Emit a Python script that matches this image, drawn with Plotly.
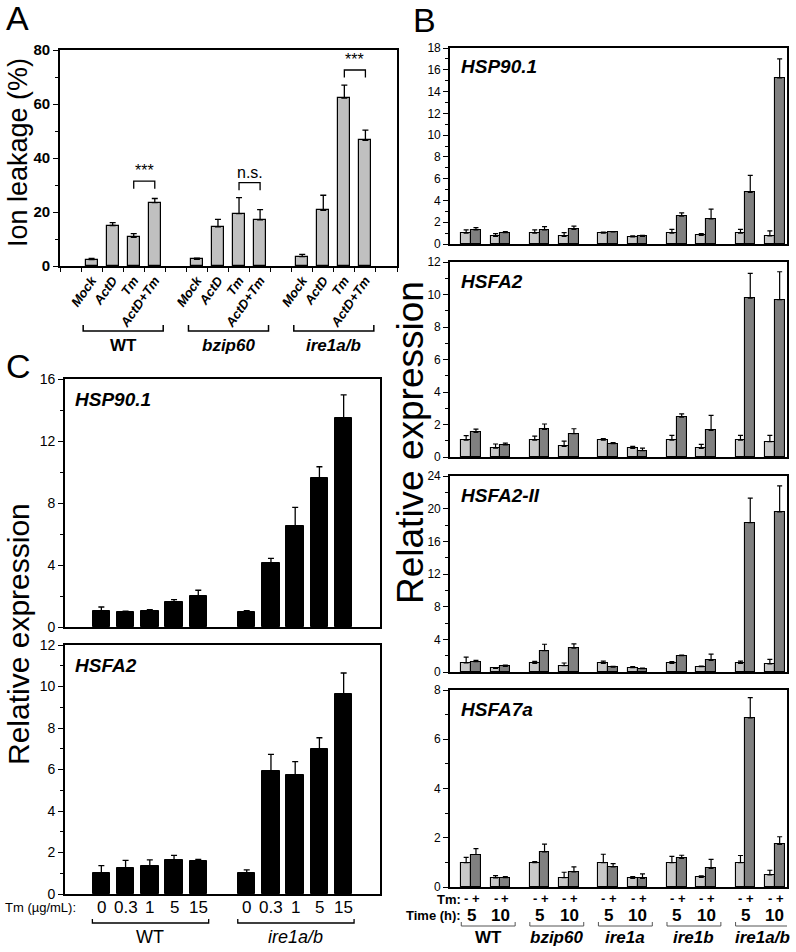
import plotly.graph_objects as go

W, H = 796, 952
FONT = "Liberation Sans, Arial, sans-serif"

# ---------------- Panel A data ----------------
a_groups = ["WT", "<i>bzip60</i>", "<i>ire1a/b</i>"]
a_treat = ["Mock", "ActD", "Tm", "ActD+Tm"]
a_wt = [2.4, 15.0, 10.6, 23.5]
a_wt_err = [0.4, 1.1, 1.4, 1.5]
a_bzip60 = [2.5, 14.5, 19.4, 17.1]
a_bzip60_err = [0.4, 2.8, 5.9, 3.8]
a_ire1ab = [3.5, 20.6, 62.2, 46.5]
a_ire1ab_err = [0.8, 5.6, 4.8, 3.8]
a_sig = ["***", "n.s.", "***"]

# ---------------- Panel B data ----------------
b_genotypes = ["WT", "<i>bzip60</i>", "<i>ire1a</i>", "<i>ire1b</i>", "<i>ire1a/b</i>"]
b_times = ["5", "10"]
b_genes = ["HSP90.1", "HSFA2", "HSFA2-II", "HSFA7a"]
# order: WT5, WT10, bzip60 5, bzip60 10, ire1a 5, ire1a 10, ire1b 5, ire1b 10, ire1a/b 5, ire1a/b 10
hsp901_minus = [1.0, 0.7, 1.0, 0.7, 1.0, 0.65, 1.0, 0.8, 1.0, 0.75]
hsp901_minus_err = [0.3, 0.25, 0.3, 0.35, 0.1, 0.1, 0.35, 0.15, 0.35, 0.45]
hsp901_plus = [1.3, 1.05, 1.3, 1.35, 1.1, 0.7, 2.55, 2.3, 4.75, 15.25]
hsp901_plus_err = [0.2, 0.1, 0.3, 0.3, 0.05, 0.1, 0.3, 0.9, 1.55, 1.75]

hsfa2_minus = [1.03, 0.55, 1.03, 0.66, 1.03, 0.53, 1.03, 0.53, 1.03, 0.94]
hsfa2_minus_err = [0.28, 0.25, 0.26, 0.32, 0.1, 0.13, 0.3, 0.25, 0.3, 0.39]
hsfa2_plus = [1.52, 0.74, 1.7, 1.44, 0.82, 0.39, 2.46, 1.64, 9.78, 9.68]
hsfa2_plus_err = [0.2, 0.12, 0.33, 0.3, 0.06, 0.16, 0.19, 0.92, 1.52, 1.72]

hsfa2ii_minus = [1.1, 0.45, 1.05, 0.77, 1.05, 0.53, 1.05, 0.65, 1.05, 1.0]
hsfa2ii_minus_err = [0.73, 0.08, 0.25, 0.33, 0.29, 0.12, 0.21, 0.08, 0.29, 0.54]
hsfa2ii_plus = [1.26, 0.69, 2.6, 2.92, 0.6, 0.4, 1.99, 1.42, 18.3, 19.6]
hsfa2ii_plus_err = [0.16, 0.16, 0.8, 0.53, 0.09, 0.09, 0.08, 0.77, 3.0, 3.2]

hsfa7a_minus = [0.99, 0.37, 0.99, 0.38, 0.99, 0.35, 0.99, 0.39, 0.99, 0.49]
hsfa7a_minus_err = [0.21, 0.09, 0.04, 0.22, 0.34, 0.07, 0.25, 0.06, 0.29, 0.19]
hsfa7a_plus = [1.32, 0.38, 1.43, 0.61, 0.82, 0.35, 1.16, 0.76, 6.87, 1.73]
hsfa7a_plus_err = [0.24, 0.04, 0.31, 0.21, 0.13, 0.18, 0.13, 0.36, 0.82, 0.31]

b_ranges = [18, 12, 24, 8]
b_dticks = [2, 2, 4, 2]

# ---------------- Panel C data ----------------
c_groups = ["WT", "<i>ire1a/b</i>"]
c_doses = ["0", "0.3", "1", "5", "15"]
c_genes = ["HSP90.1", "HSFA2"]
c_hsp901_wt = [1.01, 1.0, 1.03, 1.6, 2.02]
c_hsp901_wt_err = [0.28, 0.03, 0.09, 0.16, 0.35]
c_hsp901_ire = [1.0, 4.15, 6.52, 9.63, 13.46]
c_hsp901_ire_err = [0.05, 0.28, 1.2, 0.71, 1.51]
c_hsfa2_wt = [1.03, 1.25, 1.33, 1.64, 1.59]
c_hsfa2_wt_err = [0.34, 0.37, 0.31, 0.22, 0.08]
c_hsfa2_ire = [1.03, 5.94, 5.75, 7.0, 9.64]
c_hsfa2_ire_err = [0.13, 0.79, 0.63, 0.53, 1.01]


def fx(px):
    return px / W


def fy(py):
    return 1 - py / H


def errbar(arr, thick=1.3, width=3):
    return dict(type="data", symmetric=False, array=arr, arrayminus=[0] * len(arr),
                color="black", thickness=thick, width=width)


def txt(x, y, text, size, xref="paper", yref="paper", xanchor="center", yanchor="middle", angle=0):
    return dict(x=x, y=y, xref=xref, yref=yref, text=text, showarrow=False, xanchor=xanchor,
                yanchor=yanchor, textangle=angle, font=dict(size=size, family=FONT, color="black"))


fig = go.Figure()
shapes = []
ann = []

# ---------------- Panel A ----------------
a_vals = [a_wt, a_bzip60, a_ire1ab]
a_errs = [a_wt_err, a_bzip60_err, a_ire1ab_err]
a_x, a_y, a_e, a_lab = [], [], [], []
for gi in range(3):
    for ti in range(4):
        a_x.append(gi * 5 + ti)
        a_y.append(a_vals[gi][ti])
        a_e.append(a_errs[gi][ti])
        a_lab.append("<b><i>%s</i></b>" % a_treat[ti])
fig.add_trace(go.Bar(x=a_x, y=a_y, width=0.57, xaxis="x", yaxis="y",
                     marker=dict(color="#c0c0c0", line=dict(color="black", width=1.2)),
                     error_y=errbar(a_e), showlegend=False))

# significance brackets (data coords)
sig_pos = [(2, 3, 31.4), (7, 8, 30.9), (12, 13, 72.6)]
for (x0, x1, yb), s in zip(sig_pos, a_sig):
    shapes.append(dict(type="path", xref="x", yref="y",
                       path="M %g,%g L %g,%g L %g,%g L %g,%g" % (x0, yb - 2.8, x0, yb, x1, yb, x1, yb - 2.8),
                       line=dict(color="black", width=1.3)))
    ann.append(txt((x0 + x1) / 2, yb, s, 16, xref="x", yref="y", yanchor="bottom"))

# group brackets under A
for gi, g in enumerate(a_groups):
    x0, x1 = gi * 5 - 0.4, gi * 5 + 3.4
    shapes.append(dict(type="path", xref="x", yref="paper",
                       path="M %g,%g L %g,%g L %g,%g L %g,%g" % (x0, fy(325), x0, fy(331), x1, fy(331), x1, fy(325)),
                       line=dict(color="black", width=1.5)))
    ann.append(txt(gi * 5 + 1.5, fy(345), "<b>%s</b>" % g, 17, xref="x"))

# ---------------- Panel B ----------------
b_minus = [hsp901_minus, hsfa2_minus, hsfa2ii_minus, hsfa7a_minus]
b_minus_err = [hsp901_minus_err, hsfa2_minus_err, hsfa2ii_minus_err, hsfa7a_minus_err]
b_plus = [hsp901_plus, hsfa2_plus, hsfa2ii_plus, hsfa7a_plus]
b_plus_err = [hsp901_plus_err, hsfa2_plus_err, hsfa2ii_plus_err, hsfa7a_plus_err]
b_centers = [g * 7 + t * 3 for g in range(5) for t in range(2)]
for k in range(4):
    ax = k + 2
    fig.add_trace(go.Bar(x=[c - 0.5 for c in b_centers], y=b_minus[k], width=1.0,
                         xaxis="x%d" % ax, yaxis="y%d" % ax,
                         marker=dict(color="#c8c8c8", line=dict(color="black", width=1.1)),
                         error_y=errbar(b_minus_err[k], 1.2, 2.5), showlegend=False))
    fig.add_trace(go.Bar(x=[c + 0.5 for c in b_centers], y=b_plus[k], width=1.0,
                         xaxis="x%d" % ax, yaxis="y%d" % ax,
                         marker=dict(color="#808080", line=dict(color="black", width=1.1)),
                         error_y=errbar(b_plus_err[k], 1.2, 2.5), showlegend=False))

b_tops = [48, 262, 476, 690]
b_bots = [244, 457, 672, 887]
for k, g in enumerate(b_genes):
    ann.append(txt(fx(459), fy(b_tops[k] + 19), "<b><i>%s</i></b>" % g, 19, xanchor="left"))

# B bottom labels
ann.append(txt(fx(463), fy(899), "<b>Tm:</b>", 13, xanchor="right"))
ann.append(txt(fx(463), fy(915), "<b>Time (h):</b>", 13, xanchor="right"))
for i, c in enumerate(b_centers):
    ann.append(txt(c - 0.5, fy(898), "<b>-</b>", 13, xref="x5"))
    ann.append(txt(c + 0.5, fy(898), "<b>+</b>", 13, xref="x5"))
    ann.append(txt(c, fy(915), "<b>%s</b>" % b_times[i % 2], 17, xref="x5"))
for g, name in enumerate(b_genotypes):
    x0, x1 = g * 7 - 1, g * 7 + 4.5
    shapes.append(dict(type="path", xref="x5", yref="paper",
                       path="M %g,%g L %g,%g L %g,%g L %g,%g" % (x0, fy(922), x0, fy(926), x1, fy(926), x1, fy(922)),
                       line=dict(color="#555555", width=1)))
    ann.append(txt(g * 7 + 1.75, fy(937), "<b>%s</b>" % name, 17, xref="x5"))

# ---------------- Panel C ----------------
c_vals = [[c_hsp901_wt, c_hsp901_ire], [c_hsfa2_wt, c_hsfa2_ire]]
c_errs = [[c_hsp901_wt_err, c_hsp901_ire_err], [c_hsfa2_wt_err, c_hsfa2_ire_err]]
for k in range(2):
    ax = k + 6
    xs, ys, es = [], [], []
    for gi in range(2):
        for i in range(5):
            xs.append(gi * 6 + i)
            ys.append(c_vals[k][gi][i])
            es.append(c_errs[k][gi][i])
    fig.add_trace(go.Bar(x=xs, y=ys, width=0.72, xaxis="x%d" % ax, yaxis="y%d" % ax,
                         marker=dict(color="black", line=dict(color="black", width=1)),
                         error_y=errbar(es, 1.3, 3), showlegend=False))

c_tops = [379, 645]
for k, g in enumerate(c_genes):
    ann.append(txt(fx(73), fy(c_tops[k] + 20), "<b><i>%s</i></b>" % g, 19, xanchor="left"))

ann.append(txt(fx(3), fy(907), "Tm (µg/mL):", 13, xanchor="left"))
for gi in range(2):
    for i, d in enumerate(c_doses):
        ann.append(txt(gi * 6 + i, fy(907), d, 17, xref="x7"))
    x0, x1 = gi * 6 - 0.37, gi * 6 + 4.43
    shapes.append(dict(type="path", xref="x7", yref="paper",
                       path="M %g,%g L %g,%g L %g,%g L %g,%g" % (x0, fy(919), x0, fy(923), x1, fy(923), x1, fy(919)),
                       line=dict(color="black", width=1.3)))
    ann.append(txt(gi * 6 + 2, fy(937), c_groups[gi], 18, xref="x7"))

# ---------------- Panel letters & axis titles ----------------
for letter, (x, y) in zip(["A", "B", "C"], [(17, 18), (424, 20), (18, 366)]):
    ann.append(txt(fx(x), fy(y), letter, 34))
ann.append(txt(fx(18), fy(153), "Ion leakage (%)", 27, angle=-90))
ann.append(txt(fx(410), fy(442), "Relative expression", 37, angle=-90))
ann.append(txt(fx(18), fy(634), "Relative expression", 30, angle=-90))


# ---------------- Axes ----------------
def yax(top, bot, rng, dtick, mdt, size, anchor, bold=False):
    return dict(domain=[fy(bot), fy(top)], range=[0, rng], tickmode="linear", tick0=0, dtick=dtick,
                ticks="outside", ticklen=5, tickwidth=1.3, tickcolor="black",
                minor=dict(tickmode="linear", tick0=0, dtick=mdt, ticks="outside", ticklen=3,
                           tickwidth=1, tickcolor="black"),
                showline=True, linecolor="black", linewidth=1.6, mirror=True, showgrid=False,
                zeroline=False, anchor=anchor, automargin=False,
                tickfont=dict(size=size, family=FONT, color="black", weight="bold" if bold else "normal"))


def xax(x0, x1, rng, anchor):
    return dict(domain=[fx(x0), fx(x1)], range=rng, showline=True, linecolor="black", linewidth=1.6,
                mirror=True, showgrid=False, zeroline=False, ticks="", showticklabels=False,
                anchor=anchor, automargin=False)


layout = dict(template="none", width=W, height=H, margin=dict(l=0, r=0, t=0, b=0, pad=0),
              autosize=False, paper_bgcolor="white",
              plot_bgcolor="white", showlegend=False, bargap=0, barmode="overlay",
              annotations=ann, shapes=shapes, font=dict(family=FONT, color="black"))

# A axes
layout["xaxis"] = dict(domain=[fx(60), fx(397)], range=[-1.5, 14.5], showline=True, linecolor="black",
                       linewidth=1.6, mirror=True, showgrid=False, zeroline=False, anchor="y",
                       automargin=False,
                       tickmode="array", tickvals=a_x, ticktext=a_lab, tickangle=-55,
                       ticks="outside", ticklen=0, tickcolor="black",
                       tickfont=dict(size=13, family=FONT, color="black"),
                       minor=dict(tickmode="array", tickvals=[v + 0.5 for v in range(-2, 15)],
                                  ticks="outside", ticklen=4, tickwidth=1.3, tickcolor="black"))
layout["yaxis"] = yax(50, 266, 80, 20, 10, 15, "x", bold=True)

# B axes
for k in range(4):
    ax = k + 2
    layout["xaxis%d" % ax] = xax(450, 787, [-2.15, 32.25], "y%d" % ax)
    layout["yaxis%d" % ax] = yax(b_tops[k], b_bots[k], b_ranges[k], b_dticks[k],
                                 b_dticks[k] / 2, 12, "x%d" % ax)

# C axes
c_bots = [627, 894]
c_rng = [16, 12]
c_dt = [4, 2]
for k in range(2):
    ax = k + 6
    layout["xaxis%d" % ax] = xax(65, 380, [-1.5, 11.5], "y%d" % ax)
    layout["yaxis%d" % ax] = yax(c_tops[k], c_bots[k], c_rng[k], c_dt[k], c_dt[k] / 2, 14, "x%d" % ax)

fig.update_layout(**layout)
fig.write_html("out.html", config={"responsive": False, "displayModeBar": False},
               post_script="document.body.style.margin='0';document.body.style.padding='0';"
                           "document.documentElement.style.overflow='hidden';")
